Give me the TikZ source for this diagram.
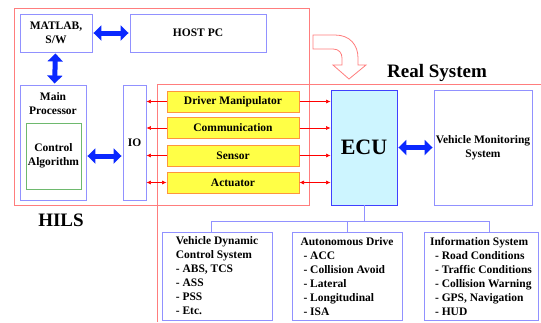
\documentclass[tikz,border=0pt]{standalone}
\usepackage{fontspec}
\setmainfont{Liberation Serif}[BoldFont={Liberation Serif Bold}]
\newfontfamily\tms{Liberation Serif}[BoldFont={Liberation Serif Bold}]
\usetikzlibrary{arrows.meta,positioning}

\definecolor{frame}{RGB}{255,125,125}
\definecolor{boxline}{RGB}{145,145,255}
\definecolor{sigfill}{RGB}{255,255,70}
\definecolor{sigline}{RGB}{255,150,60}
\definecolor{algline}{RGB}{110,185,110}
\definecolor{ecufill}{RGB}{205,245,255}
\definecolor{fatblue}{RGB}{10,40,255}

\tikzset{
  txt/.style={font=\tms\fontsize{11.5}{14}\selectfont\bfseries, align=center},
  blk/.style={txt, draw=boxline, line width=0.9pt, inner sep=1pt},
  sig/.style={txt, draw=sigline, fill=sigfill, line width=1pt, minimum width=132, minimum height=21, inner sep=0pt},
  fat/.style={fatblue, line width=5pt, {Triangle[length=8pt,width=15pt]}-{Triangle[length=8pt,width=15pt]}, shorten <=1pt, shorten >=1pt},
  wire/.style={red, line width=0.6pt, -{Latex[length=4.5pt,width=4pt]}},
  tree/.style={draw=boxline, line width=0.9pt},
  big/.style={font=\tms\fontsize{19}{22}\selectfont\bfseries}
}

\begin{document}
\begin{tikzpicture}[x=1pt,y=-1pt]
    \useasboundingbox (0,0) rectangle (541,322);

    % HILS frame and Real System frame
    \draw[frame, line width=0.9pt] (14,8) rectangle (309,205);
    \draw[frame, line width=0.9pt] (541,84) -- (157,84) -- (157,322);
    \node[big] (hils) at (61,220) {HILS};
    \node[big] (real) at (437,73) {Real System};

    % hollow arrow into the real system
    \draw[frame, fill=white, line width=0.8pt] (313,35) -- (335,35) .. controls (350,35) and (358,45) .. (358,58) -- (358,65) -- (366,65) -- (349,79) -- (333,65) -- (342,65) -- (342,58) .. controls (342,53) and (339,49) .. (333,49) -- (313,49) -- cycle;

    % host side
    \node[blk, minimum width=72, minimum height=38] (matlab) at (56,33) {MATLAB,\\S/W};
    \node[blk, minimum width=136, minimum height=38] (host) at (198,33) {HOST PC};
    \node[blk, minimum width=66, minimum height=115] (main) at (53,142.5) {};
    \node[txt, below=4pt] (mainlbl) at (main.north) {Main\\Processor};
    \node[txt, draw=algline, line width=0.9pt, minimum width=55, minimum height=66, inner sep=0pt] (ctrl) at (53.5,156) {Control\\Algorithm};
    \node[blk, minimum width=23, minimum height=115] (io) at (134.5,142.5) {IO};

    \draw[fat] (matlab) -- (host);
    \draw[fat] (matlab) -- (main);
    \draw[fat] (main.east |- ctrl) -- (io.west |- ctrl);

    % signals
    \node[sig] (drv) at (233,101.5) {Driver Manipulator};
    \node[sig] (com) at (233,128) {Communication};
    \node[sig] (sen) at (233,155.5) {Sensor};
    \node[sig] (act) at (233,182.5) {Actuator};

    % ECU and monitoring
    \node[blk, draw=blue!75, fill=ecufill, minimum width=66, minimum height=115, font=\tms\fontsize{22}{24}\selectfont\bfseries] (ecu) at (364,147.5) {ECU};
    \node[blk, minimum width=98, minimum height=115] (vms) at (483,147.5) {Vehicle Monitoring\\System};
    \draw[fat] (ecu) -- (vms);

    \foreach \s in {drv,com,sen} {
      \draw[wire] (\s.west) -- (\s.west -| io.east);
      \draw[wire] (\s.east) -- (\s.east -| ecu.west);
    }
    \draw[wire, {Latex[length=4.5pt,width=4pt]}-{Latex[length=4.5pt,width=4pt]}] (act.west) -- (act.west -| io.east);
    \draw[wire, {Latex[length=4.5pt,width=4pt]}-{Latex[length=4.5pt,width=4pt]}] (act.east) -- (act.east -| ecu.west);

    % application areas
    \node[blk, align=left, minimum width=110, minimum height=88] (vdcs) at (217,276) {Vehicle Dynamic\\Control System\\- ABS, TCS\\- ASS\\- PSS\\- Etc.};
    \node[blk, align=left, minimum width=110, minimum height=88] (auto) at (347,276.5) {Autonomous Drive\\\hspace*{3pt}- ACC\\\hspace*{3pt}- Collision Avoid\\\hspace*{3pt}- Lateral\\\hspace*{3pt}- Longitudinal\\\hspace*{3pt}- ISA};
    \node[blk, align=left, minimum width=114, minimum height=88] (info) at (481,276.5) {Information System\\\hspace*{5pt}- Road Conditions\\\hspace*{5pt}- Traffic Conditions\\\hspace*{5pt}- Collision Warning\\\hspace*{5pt}- GPS, Navigation\\\hspace*{5pt}- HUD};

    \draw[tree] (ecu.south) -- ++(0,16) coordinate (hub);
    \draw[tree] ([xshift=-6pt]vdcs.north) |- (hub) -| ([xshift=8pt]info.north);
    \draw[tree] (auto.north) -- (auto.north |- hub);

\end{tikzpicture}
\end{document}
